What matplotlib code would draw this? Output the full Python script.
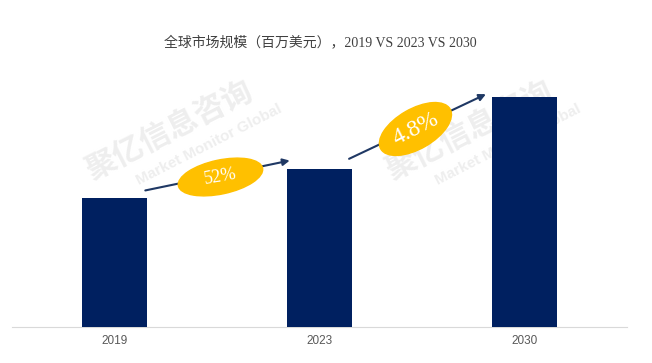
import matplotlib.pyplot as plt
from matplotlib.patches import Ellipse
from matplotlib.transforms import ScaledTranslation

plt.rcParams['font.family'] = ['Liberation Serif', 'Noto Sans CJK SC']

years = ['2019', '2023', '2030']
values = [129, 158, 230]          # relative market size (no y axis shown)
growth = ['52%', '4.8%']

bar_color = '#002060'
arrow_color = '#1F3864'
gold = '#FFC000'

fig = plt.figure(figsize=(6.52, 3.63), dpi=100)
ax = fig.add_axes([12/652, 36/363, 615/652, 267/363])

x = range(len(years))
ax.bar(x, values, width=0.32, color=bar_color, zorder=3)
ax.set_xlim(-0.5, 2.5)
ax.set_ylim(0, 267)
ax.set_xticks(list(x))
ax.set_xticklabels(years, family='Liberation Sans', fontsize=8.5, color='#595959')
ax.tick_params(axis='x', length=0, pad=6)
ax.set_yticks([])
for s in ['top', 'right', 'left']:
    ax.spines[s].set_visible(False)
ax.spines['bottom'].set_color('#d9d9d9')

# faint watermarks behind the bars
wm = dict(color='#eeeeee', rotation=27, ha='center', va='center', zorder=1,
          transform=fig.transFigure, clip_on=False)
for wx in [0.26, 0.72]:
    ax.text(wx, 0.64, '聚亿信息咨询', fontsize=22, fontweight='bold',
            family=['Noto Sans CJK SC'], **wm)
    ax.text(wx + 0.06, 0.60, 'Market Monitor Global', fontsize=11,
            fontweight='bold', family=['Liberation Sans'], **wm)

# growth arrows
ax.annotate('', xy=(0.868, values[1] + 9), xytext=(0.137, values[0] + 7),
            arrowprops=dict(arrowstyle='-|>', color=arrow_color, lw=1.5,
                            mutation_scale=10), zorder=4)
ax.annotate('', xy=(1.824, values[2] + 4), xytext=(1.132, values[1] + 9),
            arrowprops=dict(arrowstyle='-|>', color=arrow_color, lw=1.5,
                            mutation_scale=10), zorder=4)

# gold ellipses with growth labels
def badge(cx, cy, w, h, ang, label, fs, rot):
    tr = fig.dpi_scale_trans + ScaledTranslation(cx, cy, ax.transData)
    ax.add_patch(Ellipse((0, 0), w / 100, h / 100, angle=ang, color=gold,
                         transform=tr, zorder=5))
    ax.text(cx, cy, label, ha='center', va='center', color='white',
            fontsize=fs, rotation=rot, zorder=6, rotation_mode='anchor')

badge(0.517, 150, 86, 34, 12, growth[0], 13, 10)
badge(1.468, 198, 80, 40, 30, growth[1], 17, 27)

fig.text(0.492, 0.884, '全球市场规模（百万美元），2019 VS 2023 VS 2030',
         ha='center', va='center', fontsize=10, color='#404040')

fig.savefig('out.png', dpi=100)
